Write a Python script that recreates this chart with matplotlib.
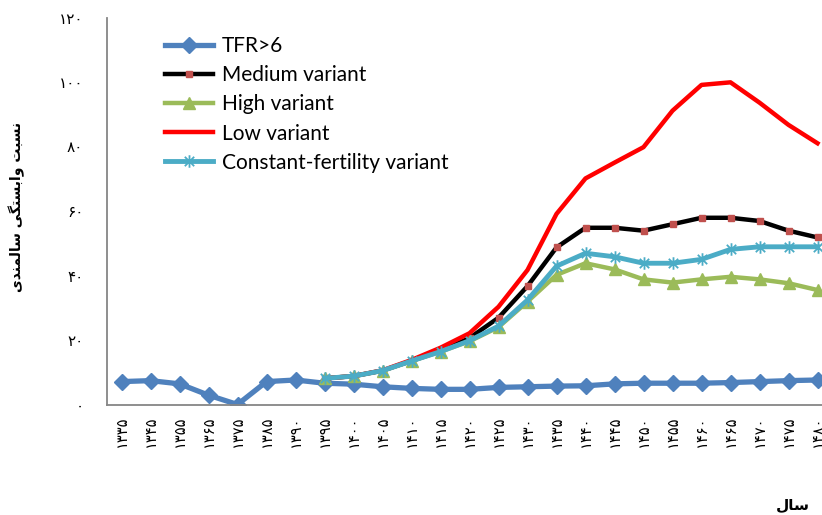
import numpy as np
import matplotlib
matplotlib.use('Agg')
import matplotlib.pyplot as plt
from matplotlib.path import Path

nan = np.nan

years = [1335, 1345, 1355, 1365, 1375, 1385, 1390, 1395, 1400, 1405, 1410, 1415, 1420,
         1425, 1430, 1435, 1440, 1445, 1450, 1455, 1460, 1465, 1470, 1475, 1480]

tfr6 = [7.1, 7.4, 6.4, 2.9, 0.0, 7.1, 7.6, 6.6, 6.3, 5.5, 5.0, 4.7, 4.7,
        5.3, 5.5, 5.7, 5.8, 6.4, 6.6, 6.6, 6.6, 6.8, 7.1, 7.4, 7.6]
medium = [nan] * 7 + [8.1, 8.8, 10.5, 13.5, 16.6, 20.6, 26.9, 36.7, 48.7, 54.8, 54.8,
                      53.9, 55.9, 57.9, 57.9, 56.9, 53.9, 51.8]
high = [nan] * 7 + [8.1, 8.8, 10.5, 13.5, 16.4, 19.6, 24.0, 31.9, 40.2, 43.8, 41.9,
                    38.8, 37.8, 38.8, 39.6, 38.8, 37.6, 35.5]
low = [nan] * 7 + [8.1, 8.8, 10.6, 13.8, 17.6, 22.1, 30.3, 41.7, 59.1, 70.1, 75.0,
                   79.8, 91.1, 99.1, 99.9, 93.6, 86.7, 81.0]
constant = [nan] * 7 + [8.1, 8.8, 10.5, 13.5, 16.4, 19.8, 24.3, 32.4, 42.9, 46.9, 45.8,
                        43.8, 43.8, 45.0, 48.1, 48.9, 48.9, 48.9]

yticks = [0, 20, 40, 60, 80, 100, 120]

# persian digits
fa = str.maketrans('0123456789', '\u06f0\u06f1\u06f2\u06f3\u06f4\u06f5\u06f6\u06f7\u06f8\u06f9')

# pre-shaped arabic presentation forms, reversed for left-to-right drawing
ylab = ('\ufee7\ufeb4\ufe92\ufe96' + ' ' +
        '\ufeed\ufe8d\ufe91\ufeb4\ufe98\ufb95\ufbfd' + ' ' +
        '\ufeb3\ufe8e\ufedf\ufee4\ufee8\ufeaa\ufbfc')[::-1]
xlab = '\ufeb3\ufe8e\ufedd'[::-1]

x = np.arange(len(years))

fig = plt.figure(figsize=(8.22, 5.15), dpi=100)
ax = fig.add_axes([107/822, (515-404.5)/515, (832-107)/822, (404.5-17.5)/515])

star = Path([(0, -1), (0, 1), (-0.75, -0.75), (0.75, 0.75), (-0.75, 0.75), (0.75, -0.75)],
            [Path.MOVETO, Path.LINETO, Path.MOVETO, Path.LINETO, Path.MOVETO, Path.LINETO])

ax.plot(x, tfr6, color='#4f81bd', lw=3.8, marker='D', ms=8, mec='#4f81bd', label='TFR>6')
ax.plot(x, medium, color='black', lw=3.2, marker='s', ms=5, mfc='#c0504d', mec='#c0504d',
        label='Medium variant')
ax.plot(x, high, color='#9bbb59', lw=3.2, marker='^', ms=8, mec='#9bbb59', label='High variant')
ax.plot(x, low, color='#ff0000', lw=3.2, label='Low variant')
ax.plot(x, constant, color='#4bacc6', lw=3.5, marker=star, ms=9, mfc='none', mec='#4bacc6',
        mew=1.3, label='Constant-fertility variant')

ax.set_xlim(-0.5, len(years) - 0.5)
ax.set_ylim(0, 120)
ax.set_xticks(x)
ax.set_xticklabels([str(y).translate(fa) for y in years], rotation=90, fontsize=10.5)
ax.set_yticks(yticks)
ax.set_yticklabels([str(v).translate(fa) for v in yticks], fontsize=11)
ax.tick_params(axis='x', length=0, pad=8)
ax.tick_params(axis='y', length=0, pad=17)

for s in ['top', 'right']:
    ax.spines[s].set_visible(False)
for s in ['left', 'bottom']:
    ax.spines[s].set_color('#868686')
    ax.spines[s].set_linewidth(1.3)

fig.text(17/822, 1 - 207/515, ylab, rotation=90, ha='center', va='center',
         fontsize=10, fontweight='bold')
fig.text(793/822, 1 - 505/515, xlab, ha='center', va='center', fontsize=11, fontweight='bold')

ax.legend(loc='upper left', bbox_to_anchor=(165/822, 1 - 36/515), bbox_transform=fig.transFigure,
          frameon=False, handlelength=2.3, handletextpad=0.42,
          labelspacing=0.44, borderpad=0, borderaxespad=0, prop={'family': 'Lato', 'size': 15})

fig.savefig('out.png', dpi=100)
